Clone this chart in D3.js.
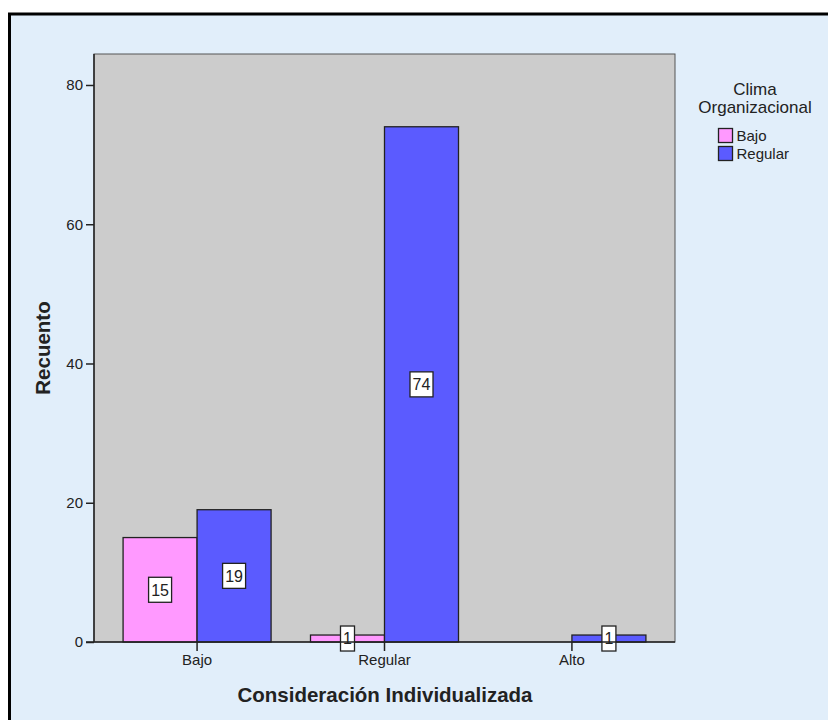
<!DOCTYPE html>
<html>
<head>
<meta charset="utf-8">
<script src="https://cdn.jsdelivr.net/npm/d3@7/dist/d3.min.js"></script>
<style>
  html, body { margin: 0; padding: 0; background: #ffffff; }
  svg { display: block; }
  text { font-family: "Liberation Sans", Arial, sans-serif; fill: #222; }
</style>
</head>
<body>
<svg id="chart" width="828" height="720"></svg>
<script>
// Categories on the x axis and the legend series
const categories = ["Bajo", "Regular", "Alto"];
const seriesNames = ["Bajo", "Regular"];
// Counts per category for each series (null = no bar)
const bajoValues = [15, 1, null];
const regularValues = [19, 74, 1];
const yTicks = [0, 20, 40, 60, 80];
const seriesColors = ["#ff99ff", "#5b5bff"];

const xTitle = "Consideración Individualizada";
const yTitle = "Recuento";
const legendTitle = ["Clima", "Organizacional"];

const svg = d3.select("#chart");

// Outer frame
svg.append("rect").attr("x", 0).attr("y", 0).attr("width", 828).attr("height", 720).attr("fill", "#ffffff");
svg.append("rect").attr("x", 9.5).attr("y", 14).attr("width", 830).attr("height", 720)
  .attr("fill", "#e1eefa").attr("stroke", "#000").attr("stroke-width", 3);

const plot = { left: 94, right: 675, top: 54, bottom: 642 };

const x = d3.scaleBand().domain(categories).range([plot.left, plot.right])
  .paddingInner(0).paddingOuter(0.05);
const xs = d3.scaleBand().domain(seriesNames).range([-74, 74]);
const y = d3.scaleLinear().domain([0, 84.45]).range([plot.bottom, plot.top]);

// Plot background
svg.append("rect").attr("x", plot.left).attr("y", plot.top)
  .attr("width", plot.right - plot.left).attr("height", plot.bottom - plot.top)
  .attr("fill", "#cccccc").attr("stroke", "#555").attr("stroke-width", 1);

// Bars
const rows = [];
categories.forEach((c, i) => {
  [bajoValues, regularValues].forEach((arr, s) => {
    if (arr[i] != null) rows.push({ cat: c, series: seriesNames[s], s, value: arr[i] });
  });
});

const cx = c => x(c) + x.bandwidth() / 2;

svg.append("g").selectAll("rect").data(rows).join("rect")
  .attr("x", d => cx(d.cat) + xs(d.series))
  .attr("y", d => y(d.value))
  .attr("width", xs.bandwidth())
  .attr("height", d => y(0) - y(d.value))
  .attr("fill", d => seriesColors[d.s])
  .attr("stroke", "#222").attr("stroke-width", 1.3);

// Value labels
const labels = svg.append("g").selectAll("g").data(rows).join("g")
  .attr("transform", d => `translate(${cx(d.cat) + xs(d.series) + xs.bandwidth() / 2},${(y(d.value) + y(0)) / 2})`);
labels.append("rect")
  .attr("x", d => d.value >= 10 ? -11.5 : -7)
  .attr("y", -12.5)
  .attr("width", d => d.value >= 10 ? 23 : 14)
  .attr("height", 25)
  .attr("fill", "#fff").attr("stroke", "#222").attr("stroke-width", 1.3);
labels.append("text")
  .attr("text-anchor", "middle").attr("dy", "0.36em")
  .style("font-size", "16px")
  .text(d => d.value);

// Y axis
const yAxis = d3.axisLeft(y).tickValues(yTicks).tickSize(8).tickPadding(3).tickSizeOuter(0);
const gy = svg.append("g").attr("transform", `translate(${plot.left},0)`).call(yAxis);
gy.select(".domain").attr("stroke", "#222").attr("stroke-width", 1.5)
  .attr("d", `M0,${plot.top}V${plot.bottom}`);
gy.selectAll(".tick line").attr("stroke", "#222").attr("stroke-width", 1.5);
gy.selectAll(".tick text").style("font-size", "15px").attr("fill", "#222");

// X axis
const xAxis = d3.axisBottom(x).tickSize(9).tickPadding(3).tickSizeOuter(0);
const gx = svg.append("g").attr("transform", `translate(0,${plot.bottom})`).call(xAxis);
gx.select(".domain").attr("stroke", "#222").attr("stroke-width", 1.5)
  .attr("d", `M${plot.left - 8},0H${plot.right}`);
gx.selectAll(".tick line").attr("stroke", "#222").attr("stroke-width", 1.5);
gx.selectAll(".tick text").style("font-size", "15px").attr("fill", "#222");

// Axis titles
svg.append("text").attr("x", 385).attr("y", 701.5)
  .attr("text-anchor", "middle").style("font-size", "20.5px").style("font-weight", "bold")
  .attr("fill", "#111")
  .text(xTitle);
svg.append("text").attr("transform", `translate(50,348) rotate(-90)`)
  .attr("text-anchor", "middle").style("font-size", "20.5px").style("font-weight", "bold")
  .attr("fill", "#111")
  .text(yTitle);

// Legend
const lg = svg.append("g");
lg.selectAll("text.title").data(legendTitle).join("text").attr("class", "title")
  .attr("x", 755).attr("y", (d, i) => 95 + i * 18)
  .attr("text-anchor", "middle").style("font-size", "17px").text(d => d);
const items = lg.selectAll("g.item").data(seriesNames).join("g").attr("class", "item")
  .attr("transform", (d, i) => `translate(718.5,${128.5 + i * 18})`);
items.append("rect").attr("width", 14).attr("height", 14)
  .attr("fill", (d, i) => seriesColors[i]).attr("stroke", "#222").attr("stroke-width", 1.3);
items.append("text").attr("x", 18).attr("y", 7).attr("dy", "0.36em")
  .style("font-size", "15px").text(d => d);
</script>
</body>
</html>
